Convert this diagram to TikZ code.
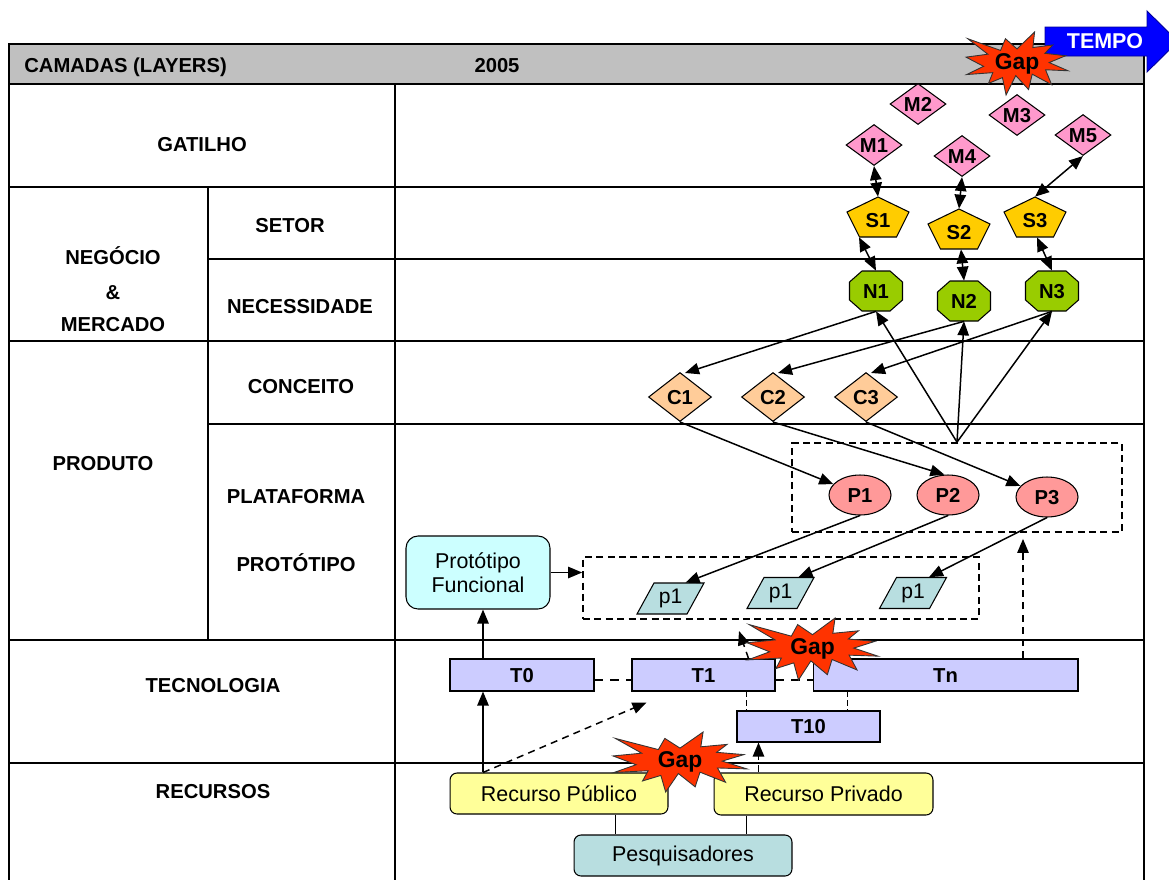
\documentclass[tikz,border=0pt]{standalone}
\usepackage{fontspec}
\setmainfont{Liberation Sans}
\usetikzlibrary{shapes.geometric,arrows.meta,calc}

\definecolor{headgray}{HTML}{C0C0C0}
\definecolor{tempoblue}{HTML}{0000FF}
\definecolor{gapred}{HTML}{FF3300}
\definecolor{mpink}{HTML}{FF99CC}
\definecolor{syellow}{HTML}{FFCC00}
\definecolor{ngreen}{HTML}{99CC00}
\definecolor{cpeach}{HTML}{FFCC99}
\definecolor{psalmon}{HTML}{FF9999}
\definecolor{prototeal}{HTML}{B8DEE0}
\definecolor{pfcyan}{HTML}{CCFFFF}
\definecolor{tlilac}{HTML}{CCCCFF}
\definecolor{ryellow}{HTML}{FFFF99}

% explosion outline (12 spikes) fitted to the box x0,y0,w,h; "Gap" in its middle
\newcommand\gapburst[5]{%
  \filldraw[burst, shift={(#2,#3)}, xscale=#4/216, yscale=#5/216]
    (108,58) -- (145.22,0) -- (141.55,53.25) -- (183.8,44.57) -- (167.02,73.15)
    -- (210.97,81.37) -- (176.07,104.75) -- (216,132.9) -- (168.37,129.42)
    -- (181.45,180.95) -- (140.2,144.57) -- (132.47,197.37) -- (105.32,149.35)
    -- (84.85,216) -- (77.15,156.27) -- (47.62,176.17) -- (56.67,139.37)
    -- (1.35,145.87) -- (37.22,117.75) -- (0,86.15) -- (46.27,76.17)
    -- (3.7,22.95) -- (73.12,63.2) -- (83.52,22.95) -- cycle;
  \node[gaptxt] (#1) at (#2+#4/2, #3+#5/2) {Gap};}

\begin{document}
\begin{tikzpicture}[x=0.02cm, y=-0.02cm,
  grid/.style={line width=1pt},
  lab/.style={font=\fontsize{11.5}{13}\selectfont\bfseries, inner sep=0pt, text height=8.2pt, text depth=0pt},
  txt/.style={font=\fontsize{12.2}{13.5}\selectfont, align=center},
  shp/.style={draw=black, line width=0.6pt},
  conn/.style={line width=0.85pt, -{Triangle[length=8pt,width=6.5pt]}},
  both/.style={line width=0.85pt, {Triangle[length=8pt,width=6.5pt]}-{Triangle[length=8pt,width=6.5pt]}},
  dconn/.style={conn, dash pattern=on 4pt off 3pt},
  dbox/.style={draw=black, line width=1pt, dash pattern=on 4pt off 2.5pt, inner sep=0pt},
  tdash/.style={line width=1.6pt, dash pattern=on 5pt off 4pt},
  vdash/.style={line width=0.75pt, dash pattern=on 3pt off 2pt},
  plain/.style={line width=0.85pt},
  mdia/.style={shape=diamond, shp, fill=mpink, lab, minimum width=1.12cm, minimum height=0.82cm, aspect=1.37},
  cdia/.style={shape=diamond, shp, fill=cpeach, lab, minimum width=1.26cm, minimum height=0.98cm, aspect=1.29},
  pell/.style={ellipse, shp, fill=psalmon, lab, minimum width=1.24cm, minimum height=0.80cm},
  pentbox/.style={rectangle, lab, text height=11.7pt, minimum width=1.24cm, minimum height=0.80cm},
  octbox/.style={rectangle, lab, minimum width=1.06cm, minimum height=0.80cm},
  parbox/.style={rectangle, txt, font=\fontsize{12}{13}\selectfont, inner sep=0pt, minimum width=1.34cm, minimum height=0.62cm},
  tbox/.style={rectangle, shp, fill=tlilac, lab, minimum height=0.64cm},
  rbox/.style={rectangle, shp, txt, rounded corners=0.14cm, minimum width=4.36cm, minimum height=0.82cm},
  burst/.style={fill=gapred, draw=black!80, line width=0.5pt},
  gaptxt/.style={font=\fontsize{13}{15}\selectfont\bfseries, inner sep=0pt},
  pentshape/.style={fill=syellow, draw=black, line width=0.6pt},
  octshape/.style={fill=ngreen, draw=black, line width=0.6pt},
  parshape/.style={fill=prototeal, draw=black, line width=0.6pt}
]
\useasboundingbox (0,0) rectangle (1169,880);

% ---------- table of layers ----------
\filldraw[grid, fill=headgray] (9,44) rectangle (1144,84);
\draw[grid] (9,84) -- (9,880) (1144,84) -- (1144,880) (395,84) -- (395,880) (208,187) -- (208,640);
\draw[grid] (9,187) -- (1144,187) (208,259) -- (1144,259) (9,341) -- (1144,341)
            (208,424) -- (1144,424) (9,640) -- (1144,640) (9,763) -- (1144,763);

\node[lab, anchor=west] (hcam) at (24,65) {CAMADAS (LAYERS)};
\node[lab] (hyear) at (497,65) {2005};
\node[lab] (lgat) at (202,144) {GATILHO};
\node[lab] (lneg) at (113,257) {NEGÓCIO};
\node[lab] (lamp) at (113,292) {\&};
\node[lab] (lmer) at (113,324) {MERCADO};
\node[lab] (lset) at (290,225) {SETOR};
\node[lab] (lnec) at (300,306) {NECESSIDADE};
\node[lab] (lcon) at (301,386) {CONCEITO};
\node[lab] (lpro) at (103,463) {PRODUTO};
\node[lab] (lpla) at (296,496) {PLATAFORMA};
\node[lab] (lprt) at (296,564) {PROTÓTIPO};
\node[lab] (ltec) at (213,685) {TECNOLOGIA};
\node[lab] (lrec) at (213,791) {RECURSOS};

% ---------- time arrow ----------
\filldraw[fill=tempoblue, draw=blue!60!black, line width=0.5pt]
  (1045,27) -- (1147,27) -- (1147,11) -- (1178,41.5) -- (1147,72) -- (1147,56) -- (1045,56) -- cycle;
\node[font=\fontsize{12.2}{14}\selectfont\bfseries, text=white, inner sep=0pt] (tempo) at (1105,41) {TEMPO};

% ---------- dashed groups ----------
\node[dbox, minimum width=6.6cm, minimum height=1.78cm] (pbox) at (957,487.5) {};
\node[dbox, minimum width=7.92cm, minimum height=1.24cm] (qbox) at (781,588) {};

% ---------- gatilho ----------
\node[mdia] (M1) at (874,145) {M1};
\node[mdia] (M2) at (918,104) {M2};
\node[mdia] (M3) at (1017,115) {M3};
\node[mdia] (M4) at (962,156) {M4};
\node[mdia] (M5) at (1083,135) {M5};

% ---------- setor (pentagons) ----------
\foreach \n/\x/\y in {S1/878/217, S2/959/229, S3/1035/217} {
  \filldraw[pentshape] (\x,\y) +(0,-20) -- +(31,-5) -- +(18.5,20) -- +(-18.5,20) -- +(-31,-5) -- cycle;
  \node[pentbox] (\n) at (\x,\y) {\n};
}

% ---------- necessidade (octagons) ----------
\foreach \n/\x/\y in {N1/876/291, N2/964/301, N3/1052/291} {
  \filldraw[octshape] (\x,\y) +(-14,-20) -- +(14,-20) -- +(26.5,-9) -- +(26.5,9) -- +(14,20)
     -- +(-14,20) -- +(-26.5,9) -- +(-26.5,-9) -- cycle;
  \node[octbox] (\n) at (\x,\y) {\n};
}

% ---------- conceito ----------
\node[cdia] (C1) at (680,397) {C1};
\node[cdia] (C2) at (773,397) {C2};
\node[cdia] (C3) at (866,397) {C3};

% ---------- plataforma ----------
\node[pell] (P1) at (860,495) {P1};
\node[pell] (P2) at (948,495) {P2};
\node[pell] (P3) at (1047,497) {P3};

% ---------- protótipo (parallelograms) ----------
\foreach \n/\x/\y in {pa/670.5/598.5, pb/780.5/593, pc/913/593} {
  \filldraw[parshape] (\x,\y) +(-16.5,-15.5) -- +(33.5,-15.5) -- +(16.5,15.5) -- +(-33.5,15.5) -- cycle;
  \node[parbox] (\n) at (\x,\y) {p1};
}

\node[rectangle, shp, txt, fill=pfcyan, rounded corners=0.24cm, minimum width=2.88cm, minimum height=1.46cm]
  (PF) at (478,572.5) {Protótipo\\Funcional};

% ---------- tecnologia ----------
\node[tbox, minimum width=2.88cm] (T0) at (522,675) {T0};
\node[tbox, minimum width=2.86cm] (T1) at (703.5,675) {T1};
\node[tbox, minimum width=5.30cm] (Tn) at (945.5,675) {Tn};
\node[tbox, minimum width=2.86cm, minimum height=0.62cm] (T10) at (808.5,726.5) {T10};

% ---------- recursos ----------
\node[rbox, fill=ryellow] (RPub) at (559,793.5) {Recurso Público};
\node[rbox, fill=ryellow, minimum width=4.38cm, minimum height=0.84cm] (RPriv) at (823.5,794) {Recurso Privado};
\node[rbox, fill=prototeal] (Pesq) at (683,855.5) {Pesquisadores};

% ---------- connectors ----------
\draw[both] (M1.south) -- (S1.north);
\draw[both] (M4.south) -- (S2.north);
\draw[both] (M5.south) -- (S3.north);

\draw[both] ([shift={(-19,0)}]S1.south) -- (N1.north);
\draw[both] ([shift={(2,0)}]S2.south) -- (N2.north);
\draw[both] ([shift={(2,0)}]S3.south) -- (N3.north);

\draw[conn] (N1.south) -- ([shift={(5,1)}]C1.north);
\draw[conn] (N2.south) -- ([shift={(5,1)}]C2.north);
\draw[conn] (N3.south) -- ([shift={(5,1)}]C3.north);

\draw[conn] (pbox.north) -- (N1.south);
\draw[conn] (pbox.north) -- (N2.south);
\draw[conn] (pbox.north) -- (N3.south);

\draw[conn] (C1.south) -- (P1);
\draw[conn] (C2.south) -- (P2.100);
\draw[conn] (C3.south) -- (P3);

\draw[conn] (P1.south) -- ([shift={(15,0)}]pa.north);
\draw[conn] (P2.south) -- ([shift={(18,0)}]pb.north);
\draw[conn] (P3.south) -- ([shift={(16,0)}]pc.north);

\draw[conn] (PF.east) -- (PF.east -| qbox.west);

\coordinate (pfin) at ([shift={(5,0)}]PF.south);
\draw[conn] (pfin |- T0.north) -- (pfin);
\draw[conn] (pfin |- RPub.north) -- (pfin |- T0.south);
\draw[dconn] (pfin |- RPub.north) -- ([shift={(15,11)}]T1.south west);

\draw[tdash] ([shift={(0,5)}]T0.east) -- ([shift={(0,5)}]T1.west);
\draw[tdash] ([shift={(0,5)}]T1.east) -- ([shift={(0,5)}]Tn.west);

\coordinate (va) at ([shift={(10,0)}]T10.north west);
\draw[vdash] (va |- T1.south) -- (va);
\coordinate (vb) at ([shift={(-33,0)}]T10.north east);
\draw[vdash] (vb |- Tn.south) -- (vb);

\coordinate (t1up) at (739,631);
\draw[dconn] ([shift={(-27,0)}]T1.north east) -- (t1up);

\coordinate (vc) at ([shift={(77.5,0)}]Tn.north);
\draw[dconn] (vc) -- ($(vc |- pbox.south)+(0,6)$);

\coordinate (vd) at ([shift={(45,0)}]RPriv.north west);
\draw[dconn] (vd) -- (vd |- T10.south);

\coordinate (ve) at ([shift={(166,0)}]RPub.south west);
\draw[plain] (ve) -- (ve |- Pesq.north);
\coordinate (vf) at ([shift={(33,0)}]RPriv.south west);
\draw[plain] (vf) -- (vf |- Pesq.north);

% ---------- gaps ----------
\gapburst{gapA}{966}{32}{102}{63}
\gapburst{gapB}{747}{618}{131}{62}
\gapburst{gapC}{613}{732}{134}{60}

\end{tikzpicture}
\end{document}
